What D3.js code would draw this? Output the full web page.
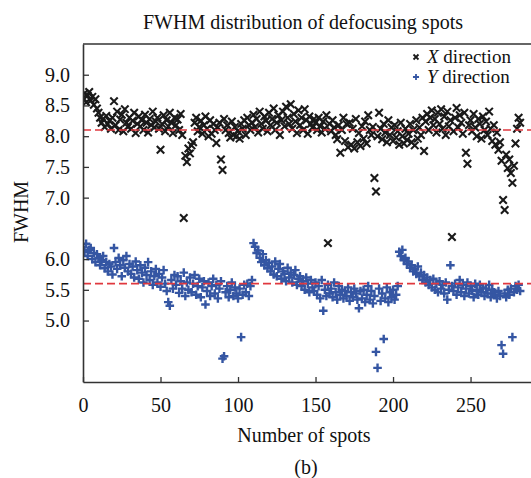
<!DOCTYPE html>
<html lang="en">
<head>
  <meta charset="utf-8">
  <title>FWHM distribution</title>
  <script src="https://d3js.org/d3.v7.min.js"></script>
  <style>
    body { margin: 0; background: #fff; }
    text { font-family: "Liberation Serif", "Times New Roman", serif; fill: #111; }
  </style>
</head>
<body>
<div id="chart"></div>
<script>
// FWHM per spot (index = spot number)
var xDir = [
  8.62, 8.70, 8.55, 8.66, 8.72, 8.58, 8.64, 8.51, 8.60, 8.45,
  8.38, 8.30, 8.22, 8.28, 8.15, 8.33, 8.20, 8.25, 8.12, 8.30,
  8.57, 8.18, 8.40, 8.10, 8.27, 8.35, 8.08, 8.44, 8.22, 8.15,
  8.30, 8.12, 8.25, 8.38, 8.05, 8.20, 8.32, 8.16, 8.26, 8.10,
  8.35, 8.22, 8.06, 8.28, 8.18, 8.40, 8.14, 8.24, 8.30, 8.12,
  7.78, 8.20, 8.34, 8.08, 8.26, 8.16, 8.38, 8.22, 8.05, 8.30,
  8.18, 8.27, 8.10, 8.36, 8.02, 6.67, 7.68, 7.58, 7.80, 7.72,
  7.85, 7.90, 8.22, 8.30, 8.08, 8.15, 8.25, 8.04, 8.18, 8.32,
  8.12, 8.00, 8.26, 8.04, 8.20, 8.10, 7.89, 8.14, 8.22, 7.62,
  7.45, 8.28, 8.10, 8.18, 8.05, 7.98, 8.24, 8.02, 8.15, 8.00,
  8.08, 7.96, 8.20, 8.12, 8.26, 8.02, 8.30, 8.18, 8.10, 8.22,
  8.35, 8.15, 8.28, 8.06, 8.40, 8.20, 8.12, 8.32, 8.25, 8.08,
  8.38, 8.18, 8.28, 8.45, 8.10, 8.22, 8.34, 8.02, 8.26, 8.40,
  8.16, 8.48, 8.30, 8.20, 8.52, 8.12, 8.36, 8.24, 8.05, 8.42,
  8.18, 8.30, 8.10, 8.44, 8.26, 8.04, 8.32, 8.20, 8.14, 8.28,
  8.22, 8.10, 8.30, 8.16, 8.06, 8.24, 8.12, 8.34, 6.26, 8.20,
  8.08, 8.26, 8.14, 8.02, 7.95, 8.18, 7.73, 8.10, 8.30, 7.92,
  8.20, 7.82, 8.22, 7.86, 8.12, 7.80, 8.28, 7.90, 8.05, 7.84,
  8.16, 7.96, 8.24, 7.88, 8.34, 8.10, 8.02, 8.15, 7.32, 7.10,
  8.00, 8.38, 8.12, 7.95, 8.20, 8.06, 7.90, 8.26, 8.02, 8.14,
  7.92, 8.18, 7.98, 8.08, 7.86, 8.22, 8.00, 7.88, 8.12, 7.94,
  8.04, 8.20, 7.90, 8.10, 7.85, 8.26, 7.96, 8.14, 8.02, 8.30,
  7.76, 8.24, 8.36, 8.10, 8.30, 8.42, 8.18, 8.28, 8.06, 8.38,
  8.20, 8.44, 8.12, 8.32, 8.02, 8.40, 8.16, 8.26, 6.36, 8.08,
  8.30, 8.46, 8.14, 8.34, 8.22, 8.04, 8.38, 7.73, 7.55, 8.18,
  8.26, 8.08, 8.36, 8.14, 8.00, 8.28, 8.20, 7.96, 8.32, 8.10,
  8.24, 8.02, 8.40, 8.12, 7.92, 8.18, 7.86, 8.06, 7.78, 7.90,
  7.60, 6.96, 6.80, 7.70, 7.48, 7.62, 7.40, 7.24, 7.52, 7.88,
  8.12, 8.30, 8.22
];
var yDir = [
  6.20, 6.12, 6.25, 6.05, 6.15, 6.18, 6.00, 6.10, 5.95, 6.08,
  6.02, 5.90, 5.98, 6.05, 5.85, 5.95, 5.80, 5.92, 5.88, 5.75,
  6.18, 5.95, 5.84, 6.02, 5.90, 5.72, 5.98, 5.86, 6.05, 5.80,
  5.92, 5.76, 5.88, 5.70, 5.96, 5.82, 5.68, 5.90, 5.78, 5.62,
  5.86, 5.74, 5.95, 5.66, 5.80, 5.58, 5.72, 5.84, 5.62, 5.76,
  5.55, 5.70, 5.82, 5.60, 5.48, 5.30, 5.24, 5.66, 5.52, 5.74,
  5.58, 5.72, 5.45, 5.64, 5.52, 5.78, 5.40, 5.62, 5.50, 5.70,
  5.46, 5.60, 5.74, 5.42, 5.56, 5.68, 5.38, 5.54, 5.64, 5.26,
  5.48, 5.62, 5.40, 5.56, 5.68, 5.44, 5.58, 5.36, 5.52, 5.64,
  4.38, 4.42, 5.46, 5.56, 5.38, 5.50, 5.62, 5.40, 5.54, 5.44,
  5.36, 5.52, 4.73, 5.42, 5.58, 5.46, 5.60, 5.40, 5.56, 5.66,
  6.26, 6.20, 6.10, 6.14, 6.02, 5.95, 6.08, 5.90, 5.98, 5.85,
  5.94, 5.80, 5.88, 5.75, 5.96, 5.72, 5.84, 5.92, 5.68, 5.80,
  5.76, 5.64, 5.86, 5.70, 5.78, 5.62, 5.74, 5.82, 5.58, 5.68,
  5.72, 5.56, 5.64, 5.50, 5.70, 5.60, 5.46, 5.66, 5.54, 5.48,
  5.62, 5.42, 5.56, 5.36, 5.66, 5.16, 5.50, 5.40, 5.58, 5.44,
  5.52, 5.38, 5.62, 5.46, 5.34, 5.56, 5.42, 5.50, 5.36, 5.48,
  5.40, 5.54, 5.32, 5.46, 5.38, 5.52, 5.44, 5.34, 5.20, 5.48,
  5.36, 5.50, 5.30, 5.42, 5.56, 5.34, 5.48, 5.28, 5.40, 4.49,
  4.23, 5.52, 5.32, 5.44, 4.70, 5.36, 5.54, 5.30, 5.46, 5.38,
  5.50, 5.34, 5.42, 5.56, 6.12, 6.05, 6.15, 5.98, 6.02, 5.92,
  5.96, 5.86, 5.90, 5.80, 5.84, 5.76, 5.88, 5.72, 5.78, 5.66,
  5.74, 5.62, 5.70, 5.58, 5.66, 5.54, 5.68, 5.50, 5.60, 5.46,
  5.64, 5.52, 5.58, 5.44, 5.62, 5.34, 5.50, 5.90, 5.56, 5.48,
  5.60, 5.42, 5.54, 5.66, 5.46, 5.58, 5.40, 5.52, 5.62, 5.44,
  5.56, 5.48, 5.38, 5.60, 5.50, 5.42, 5.58, 5.46, 5.54, 5.40,
  5.52, 5.44, 5.58, 5.38, 5.50, 5.46, 5.42, 5.36, 5.48, 5.40,
  4.60, 4.46, 5.44, 5.38, 5.50, 5.42, 5.52, 4.73, 5.46, 5.56,
  5.50, 5.58, 5.48
];
var meanX = 8.1, meanY = 5.6;
var xTicks = [0, 50, 100, 150, 200, 250];
var yTicks = [5.0, 5.5, 6.0, 7.0, 7.5, 8.0, 8.5, 9.0];
var seriesNames = ["X", "Y"];

var W = 531, H = 478;
var plot = {left: 83, right: 531, top: 44, bottom: 382};

var svg = d3.select("#chart").append("svg")
  .attr("width", W).attr("height", H);

var x = d3.scaleLinear().domain([0, 289]).range([plot.left, plot.right]);
var y = d3.scaleLinear().domain([4.0, 9.5]).range([plot.bottom, plot.top]);

svg.append("clipPath").attr("id", "clip")
  .append("rect")
  .attr("x", plot.left).attr("y", plot.top)
  .attr("width", plot.right - plot.left).attr("height", plot.bottom - plot.top);

var pts = svg.append("g").attr("clip-path", "url(#clip)");

// X direction: black crosses
var symX = d3.symbol().type(d3.symbolX).size(38);
pts.selectAll(".px")
  .data(xDir)
  .enter().append("path")
    .attr("class", "px")
    .attr("d", symX)
    .attr("transform", function(d, i) { return "translate(" + x(i) + "," + y(d) + ")"; })
    .attr("fill", "none")
    .attr("stroke", "#1a1a1a")
    .attr("stroke-width", 2.1);

// Y direction: blue pluses
var symY = d3.symbol().type(d3.symbolPlus).size(26);
pts.selectAll(".py")
  .data(yDir)
  .enter().append("path")
    .attr("class", "py")
    .attr("d", symY)
    .attr("transform", function(d, i) { return "translate(" + x(i) + "," + y(d) + ")"; })
    .attr("fill", "none")
    .attr("stroke", "#3556a3")
    .attr("stroke-width", 2.4);

// mean lines
pts.selectAll(".mean")
  .data([meanX, meanY])
  .enter().append("line")
    .attr("x1", plot.left).attr("x2", plot.right)
    .attr("y1", function(d) { return y(d); })
    .attr("y2", function(d) { return y(d); })
    .attr("stroke", "#e0383f")
    .attr("stroke-width", 1.6)
    .attr("stroke-dasharray", "8,4");

// axes (ticks point inward)
var xAxis = svg.append("g")
  .attr("transform", "translate(0," + plot.bottom + ")")
  .call(d3.axisBottom(x).tickValues(xTicks).tickSizeInner(-5).tickSizeOuter(0).tickPadding(11));
var yAxis = svg.append("g")
  .attr("transform", "translate(" + plot.left + ",0)")
  .call(d3.axisLeft(y).tickValues(yTicks).tickFormat(d3.format(".1f")).tickSizeInner(-6).tickSizeOuter(0).tickPadding(13));

[xAxis, yAxis].forEach(function(a) {
  a.select(".domain").attr("stroke", "#333").attr("stroke-width", 1.6);
  a.selectAll(".tick line").attr("stroke", "#333").attr("stroke-width", 1.3);
  a.selectAll(".tick text")
    .attr("fill", "#111")
    .style("font-family", "'Liberation Serif', 'Times New Roman', serif")
    .style("font-size", "20px");
});
xAxis.selectAll(".tick text").attr("dy", "0.75em").attr("y", 15);

// top frame line
svg.append("line")
  .attr("x1", plot.left).attr("x2", plot.right)
  .attr("y1", plot.top).attr("y2", plot.top)
  .attr("stroke", "#333").attr("stroke-width", 1.6);

// titles
svg.append("text")
  .attr("x", 303).attr("y", 29)
  .attr("text-anchor", "middle")
  .style("font-size", "20px")
  .text("FWHM distribution of defocusing spots");

svg.append("text")
  .attr("x", 304).attr("y", 442)
  .attr("text-anchor", "middle")
  .style("font-size", "20px")
  .text("Number of spots");

svg.append("text")
  .attr("x", 306).attr("y", 474)
  .attr("text-anchor", "middle")
  .style("font-size", "20px")
  .text("(b)");

svg.append("text")
  .attr("transform", "translate(28,212) rotate(-90)")
  .attr("text-anchor", "middle")
  .style("font-size", "20px")
  .text("FWHM");

// legend
var leg = svg.append("g");
var legRows = leg.selectAll("g")
  .data(seriesNames)
  .enter().append("g")
    .attr("transform", function(d, i) { return "translate(416," + (57 + i * 20) + ")"; });

legRows.append("path")
  .attr("d", function(d) {
    return d === "X" ? d3.symbol().type(d3.symbolX).size(18)() : d3.symbol().type(d3.symbolPlus).size(14)();
  })
  .attr("fill", "none")
  .attr("stroke", function(d) { return d === "X" ? "#1a1a1a" : "#3556a3"; })
  .attr("stroke-width", 1.8);

var legText = legRows.append("text")
  .attr("x", 11).attr("y", 6)
  .style("font-size", "19px");
legText.append("tspan").style("font-style", "italic").text(function(d) { return d; });
legText.append("tspan").text(" direction");
</script>
</body>
</html>
